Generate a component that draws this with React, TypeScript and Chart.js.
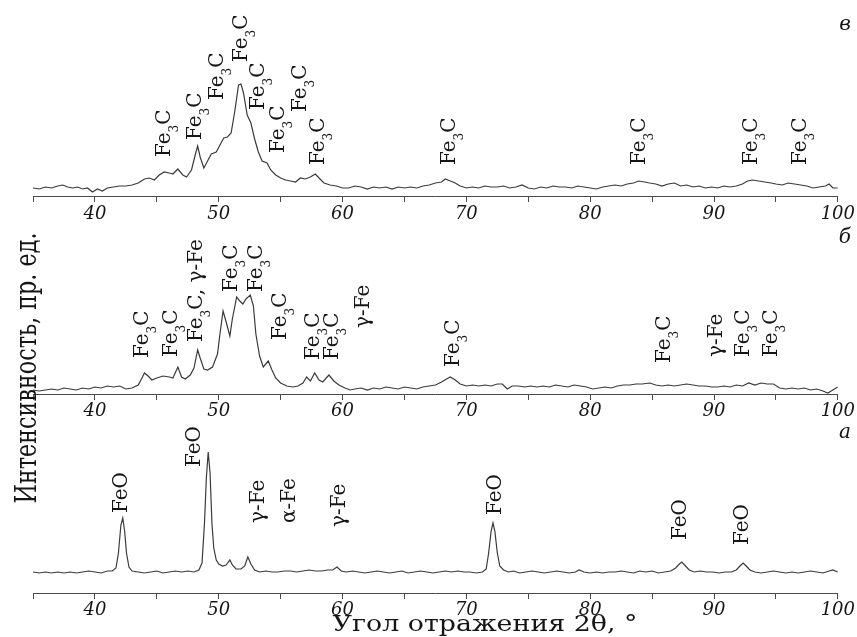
import React, { useEffect, useRef } from 'react';
import { Chart, registerables } from 'chart.js';

Chart.register(...registerables);

// ---------- axis ----------
const X_MIN = 35;
const X_MAX = 100;
const TICK_STEP = 5;
const LABELLED_EVERY = 10;

const xTitle = 'Угол отражения 2θ, °';
const yTitle = 'Интенсивность, пр. ед.';
const panelLetters = ['в', 'б', 'а'];

// ---------- panel в (top) ----------
const anglesV = [35.0, 35.5, 36.0, 36.5, 37.0, 37.4, 37.8, 38.2, 38.6, 39.0, 39.4, 39.8, 40.2, 40.6, 41.0, 41.5, 42.0, 42.5, 43.0, 43.5, 44.0, 44.4, 44.8, 45.2, 45.6, 46.0, 46.3, 46.7, 47.1, 47.4, 47.8, 48.1, 48.3, 48.5, 48.8, 49.1, 49.4, 49.8, 50.1, 50.4, 50.7, 51.0, 51.3, 51.6, 51.8, 52.0, 52.3, 52.6, 52.9, 53.2, 53.5, 53.9, 54.2, 54.6, 55.0, 55.4, 55.8, 56.2, 56.6, 57.0, 57.4, 57.8, 58.1, 58.5, 59.0, 59.5, 60.0, 60.5, 61.0, 61.5, 62.0, 62.5, 63.0, 63.5, 64.0, 64.5, 65.0, 65.5, 66.0, 66.5, 67.0, 67.5, 68.0, 68.3, 68.7, 69.1, 69.5, 70.0, 70.5, 71.0, 71.5, 72.0, 72.5, 73.0, 73.5, 74.0, 74.5, 75.0, 75.5, 76.0, 76.5, 77.0, 77.5, 78.0, 78.5, 79.0, 79.5, 80.0, 80.5, 81.0, 81.5, 82.0, 82.5, 83.0, 83.5, 83.9, 84.4, 84.8, 85.3, 85.8, 86.3, 86.8, 87.3, 87.8, 88.3, 88.8, 89.3, 89.8, 90.3, 90.8, 91.3, 91.8, 92.3, 92.7, 93.1, 93.6, 94.1, 94.6, 95.0, 95.5, 96.0, 96.5, 97.0, 97.5, 98.0, 98.5, 99.0, 99.3, 99.6, 100.0];
const countsV = [9, 8, 10, 9, 11, 12, 10, 9, 10, 8, 9, 5, 8, 6, 9, 10, 11, 11, 12, 14, 18, 19, 17, 22, 25, 24, 23, 28, 22, 20, 27, 42, 51, 40, 29, 36, 43, 45, 52, 59, 60, 64, 86, 112, 113, 104, 82, 74, 58, 45, 36, 34, 27, 22, 19, 17, 16, 15, 19, 18, 20, 23, 19, 14, 12, 11, 9, 9, 11, 10, 8, 10, 9, 10, 8, 10, 9, 10, 9, 11, 12, 14, 15, 18, 16, 14, 11, 9, 10, 9, 11, 10, 10, 11, 9, 10, 12, 9, 8, 10, 9, 11, 10, 10, 9, 11, 10, 9, 8, 10, 11, 12, 11, 13, 14, 16, 15, 14, 13, 11, 13, 14, 11, 12, 10, 11, 9, 10, 9, 11, 10, 11, 13, 16, 17, 16, 15, 14, 13, 12, 14, 13, 12, 11, 9, 10, 11, 13, 9, 9];
const peakAnglesV = [45.5, 48.0, 49.8, 51.7, 53.1, 54.7, 56.5, 57.9, 68.5, 83.9, 92.9, 96.9];
const peakTextsV = ['Fe_3C', 'Fe_3C', 'Fe_3C', 'Fe_3C', 'Fe_3C', 'Fe_3C', 'Fe_3C', 'Fe_3C', 'Fe_3C', 'Fe_3C', 'Fe_3C', 'Fe_3C'];
const peakLevelsV = [40, 57, 97, 135, 87, 44, 85, 32, 32, 32, 32, 32];

// ---------- panel б (middle) ----------
const anglesB = [35.0, 35.5, 36.0, 36.5, 37.0, 37.5, 38.0, 38.5, 39.0, 39.5, 40.0, 40.5, 41.0, 41.5, 42.0, 42.5, 43.0, 43.5, 43.8, 44.0, 44.3, 44.6, 45.0, 45.5, 46.0, 46.3, 46.7, 47.0, 47.3, 47.7, 48.0, 48.3, 48.5, 48.8, 49.1, 49.5, 49.9, 50.1, 50.35, 50.6, 50.9, 51.1, 51.45, 51.7, 51.95, 52.2, 52.55, 52.8, 53.0, 53.3, 53.6, 54.0, 54.3, 54.6, 55.0, 55.5, 56.0, 56.4, 56.8, 57.1, 57.4, 57.75, 58.1, 58.4, 58.9, 59.3, 59.7, 60.2, 60.6, 61.0, 61.5, 62.0, 62.5, 63.0, 63.5, 64.0, 64.5, 65.0, 65.5, 66.0, 66.5, 67.0, 67.5, 68.0, 68.4, 68.7, 69.1, 69.5, 70.0, 70.5, 71.0, 71.5, 72.0, 72.5, 72.9, 73.3, 73.7, 74.2, 74.7, 75.2, 75.7, 76.2, 76.7, 77.2, 77.7, 78.2, 78.7, 79.2, 79.7, 80.2, 80.7, 81.2, 81.7, 82.2, 82.7, 83.2, 83.7, 84.2, 84.8, 85.3, 85.8, 86.3, 86.8, 87.3, 87.8, 88.3, 88.8, 89.3, 89.8, 90.3, 90.8, 91.3, 91.8, 92.3, 92.8, 93.3, 93.8, 94.3, 94.8, 95.3, 95.8, 96.3, 96.8, 97.3, 97.8, 98.3, 98.8, 99.2, 99.6, 100.0];
const countsB = [4, 3, 4, 5, 4, 6, 5, 4, 6, 5, 7, 6, 8, 7, 8, 5, 6, 9, 16, 21, 18, 14, 16, 18, 17, 16, 27, 17, 15, 19, 26, 44, 36, 25, 24, 27, 40, 60, 83, 72, 58, 75, 97, 93, 90, 95, 99, 88, 60, 38, 27, 33, 24, 16, 11, 8, 7, 8, 11, 17, 13, 21, 14, 12, 19, 13, 9, 6, 4, 5, 6, 4, 6, 5, 7, 6, 5, 7, 6, 5, 7, 8, 9, 12, 15, 17, 14, 10, 8, 9, 8, 9, 8, 10, 10, 5, 8, 8, 7, 8, 7, 8, 7, 9, 8, 7, 9, 8, 7, 5, 6, 7, 6, 8, 9, 9, 10, 10, 11, 9, 8, 9, 8, 9, 10, 9, 8, 8, 7, 7, 8, 7, 9, 8, 11, 9, 11, 10, 10, 6, 5, 6, 5, 6, 4, 5, 3, 1, 4, 7];
const peakAnglesB = [43.75, 46.1, 48.1, 50.9, 52.9, 54.9, 57.5, 59.05, 61.6, 68.85, 85.9, 90.1, 92.25, 94.5];
const peakTextsB = ['Fe_3C', 'Fe_3C', 'Fe_3C, γ-Fe', 'Fe_3C', 'Fe_3C', 'Fe_3C', 'Fe_3C', 'Fe_3C', 'γ-Fe', 'Fe_3C', 'Fe_3C', 'γ-Fe', 'Fe_3C', 'Fe_3C'];
const peakLevelsB = [36, 37, 52, 102, 102, 54, 34, 34, 66, 27, 31, 37, 37, 37];

// ---------- panel а (bottom) ----------
const anglesA = [35.0, 35.5, 36.0, 36.5, 37.0, 37.5, 38.0, 38.5, 39.0, 39.5, 40.0, 40.5, 41.0, 41.4, 41.7, 41.9, 42.1, 42.25, 42.4, 42.55, 42.75, 43.0, 43.5, 44.0, 44.5, 45.0, 45.5, 46.0, 46.5, 47.0, 47.5, 48.0, 48.4, 48.65, 48.85, 49.0, 49.15, 49.3, 49.45, 49.6, 49.8, 50.0, 50.3, 50.6, 50.9, 51.1, 51.4, 51.8, 52.1, 52.35, 52.6, 52.9, 53.3, 53.8, 54.3, 54.8, 55.3, 55.8, 56.3, 56.8, 57.3, 57.8, 58.3, 58.8, 59.2, 59.55, 59.9, 60.3, 60.8, 61.3, 61.8, 62.3, 62.8, 63.3, 63.8, 64.3, 64.8, 65.3, 65.8, 66.3, 66.8, 67.3, 67.8, 68.3, 68.8, 69.3, 69.8, 70.3, 70.8, 71.3, 71.6, 71.8, 72.0, 72.15, 72.3, 72.5, 72.7, 73.0, 73.4, 73.8, 74.3, 74.8, 75.3, 75.8, 76.3, 76.8, 77.3, 77.8, 78.3, 78.8, 79.1, 79.5, 80.0, 80.5, 81.0, 81.5, 82.0, 82.5, 83.0, 83.5, 84.0, 84.5, 85.0, 85.5, 86.0, 86.5, 86.9, 87.2, 87.4, 87.7, 88.0, 88.4, 88.9, 89.4, 89.9, 90.4, 90.9, 91.4, 91.8, 92.1, 92.35, 92.6, 92.9, 93.3, 93.8, 94.3, 94.8, 95.3, 95.8, 96.3, 96.8, 97.3, 97.8, 98.3, 98.8, 99.3, 99.6, 100.0];
const countsA = [21, 20, 21, 20, 21, 20, 21, 20, 21, 22, 21, 20, 22, 22, 25, 40, 68, 75, 62, 40, 26, 22, 21, 20, 21, 22, 20, 21, 22, 21, 22, 21, 23, 30, 70, 115, 141, 120, 70, 45, 33, 29, 27, 28, 33, 28, 24, 24, 27, 36, 29, 23, 21, 22, 21, 21, 22, 22, 21, 22, 23, 22, 22, 23, 23, 26, 22, 21, 22, 21, 20, 21, 22, 21, 20, 21, 22, 20, 21, 22, 21, 20, 21, 22, 21, 22, 21, 21, 20, 21, 24, 40, 62, 70, 62, 40, 27, 23, 21, 22, 20, 21, 22, 21, 20, 21, 22, 21, 20, 21, 23, 21, 20, 21, 20, 21, 21, 22, 21, 20, 22, 21, 22, 20, 21, 22, 25, 29, 31, 27, 23, 21, 22, 21, 21, 20, 21, 21, 23, 27, 30, 27, 23, 21, 20, 21, 22, 21, 20, 21, 20, 21, 22, 21, 20, 22, 23, 21];
const peakAnglesA = [42.0, 47.9, 53.1, 55.6, 59.6, 72.2, 87.2, 92.2];
const peakTextsA = ['FeO', 'FeO', 'γ-Fe', 'α-Fe', 'γ-Fe', 'FeO', 'FeO', 'FeO'];
const peakLevelsA = [80, 126, 70, 70, 66, 78, 53, 48];

// ---------- layout (vertical placement of the three stacked panels) ----------
const W = 857;
const H = 637;
const Y_TOP = 593;
const panels = [
  { id: 'x3', base: 396, angles: anglesV, counts: countsV, pAngles: peakAnglesV, pTexts: peakTextsV, pLevels: peakLevelsV, letter: panelLetters[0], letterY: 30 },
  { id: 'x2', base: 199, angles: anglesB, counts: countsB, pAngles: peakAnglesB, pTexts: peakTextsB, pLevels: peakLevelsB, letter: panelLetters[1], letterY: 243 },
  { id: 'x', base: 0, angles: anglesA, counts: countsA, pAngles: peakAnglesA, pTexts: peakTextsA, pLevels: peakLevelsA, letter: panelLetters[2], letterY: 438 },
];

const SERIF = '"DejaVu Serif", "Liberation Serif", serif';
const INK = '#151515';
const AXIS = '#4a4a4a';

function segments(text: string) {
  const out: { t: string; sub: boolean }[] = [];
  const parts = text.split('_');
  parts.forEach((p, i) => {
    if (i === 0) { if (p) out.push({ t: p, sub: false }); return; }
    out.push({ t: p.charAt(0), sub: true });
    if (p.length > 1) out.push({ t: p.slice(1), sub: false });
  });
  return out;
}

function drawVertical(ctx: CanvasRenderingContext2D, x: number, y: number, text: string) {
  ctx.save();
  ctx.translate(x + 7, y);
  ctx.rotate(-Math.PI / 2);
  ctx.textAlign = 'left';
  ctx.textBaseline = 'alphabetic';
  let cx = 0;
  for (const s of segments(text)) {
    ctx.font = s.sub ? `12px ${SERIF}` : `20px ${SERIF}`;
    ctx.fillText(s.t, cx, s.sub ? 8 : 0);
    cx += ctx.measureText(s.t).width;
  }
  ctx.restore();
}

const textPlugin = {
  id: 'xrdText',
  afterDatasetsDraw(chart: any) {
    const ctx: CanvasRenderingContext2D = chart.ctx;
    const xs = chart.scales.x;
    const ys = chart.scales.y;
    ctx.save();
    ctx.fillStyle = INK;
    for (const p of panels) {
      p.pAngles.forEach((a, i) => {
        drawVertical(ctx, xs.getPixelForValue(a), ys.getPixelForValue(p.base + p.pLevels[i]), p.pTexts[i]);
      });
      ctx.font = `italic 20px ${SERIF}`;
      ctx.textAlign = 'right';
      ctx.textBaseline = 'alphabetic';
      ctx.fillText(p.letter, 851, p.letterY);
    }
    // x title
    ctx.save();
    ctx.font = `23px ${SERIF}`;
    const wX = ctx.measureText(xTitle).width;
    ctx.translate(485, 631);
    ctx.scale(305 / wX, 1);
    ctx.textAlign = 'center';
    ctx.textBaseline = 'alphabetic';
    ctx.fillText(xTitle, 0, 0);
    ctx.restore();
    // y title
    ctx.save();
    ctx.font = `20px ${SERIF}`;
    const wY = ctx.measureText(yTitle).width;
    ctx.translate(36, 368);
    ctx.rotate(-Math.PI / 2);
    ctx.scale(271 / wY, 1.5);
    ctx.textAlign = 'center';
    ctx.textBaseline = 'alphabetic';
    ctx.fillText(yTitle, 0, 0);
    ctx.restore();
    ctx.restore();
  },
};

function xAxis(base: number) {
  return {
    type: 'linear',
    position: { y: base },
    min: X_MIN,
    max: X_MAX,
    border: { display: true, color: AXIS, width: 1 },
    grid: { drawOnChartArea: false, drawTicks: true, tickLength: 5, color: AXIS, lineWidth: 1 },
    ticks: {
      stepSize: TICK_STEP,
      autoSkip: false,
      maxRotation: 0,
      padding: 2,
      color: INK,
      font: { family: SERIF, style: 'italic', size: 18 },
      callback: (v: number) => (v % LABELLED_EVERY === 0 ? String(v) : ''),
    },
  };
}

export default function App() {
  const ref = useRef<HTMLCanvasElement | null>(null);
  useEffect(() => {
    if (!ref.current) return;
    const scales: any = {
      y: { type: 'linear', display: false, min: 0, max: Y_TOP },
    };
    for (const p of panels) scales[p.id] = xAxis(p.base);
    const chart = new Chart(ref.current, {
      type: 'line',
      data: {
        datasets: panels.map((p) => ({
          data: p.angles.map((a, i) => ({ x: a, y: p.base + p.counts[i] })),
          xAxisID: 'x',
          yAxisID: 'y',
          borderColor: '#3a3a3a',
          borderWidth: 1.2,
          pointRadius: 0,
          tension: 0,
          fill: false,
        })),
      },
      options: {
        responsive: false,
        animation: false,
        devicePixelRatio: 1,
        layout: { padding: { left: 33, right: 17, top: 0, bottom: H - Y_TOP } },
        plugins: { legend: { display: false }, tooltip: { enabled: false }, title: { display: false } },
        scales,
      } as any,
      plugins: [textPlugin],
    });
    return () => chart.destroy();
  }, []);
  return (
    <div style={{ position: 'absolute', left: 0, top: 0, width: W, height: H, background: '#fff' }}>
      <canvas ref={ref} width={W} height={H} style={{ width: W, height: H, display: 'block' }} />
    </div>
  );
}
